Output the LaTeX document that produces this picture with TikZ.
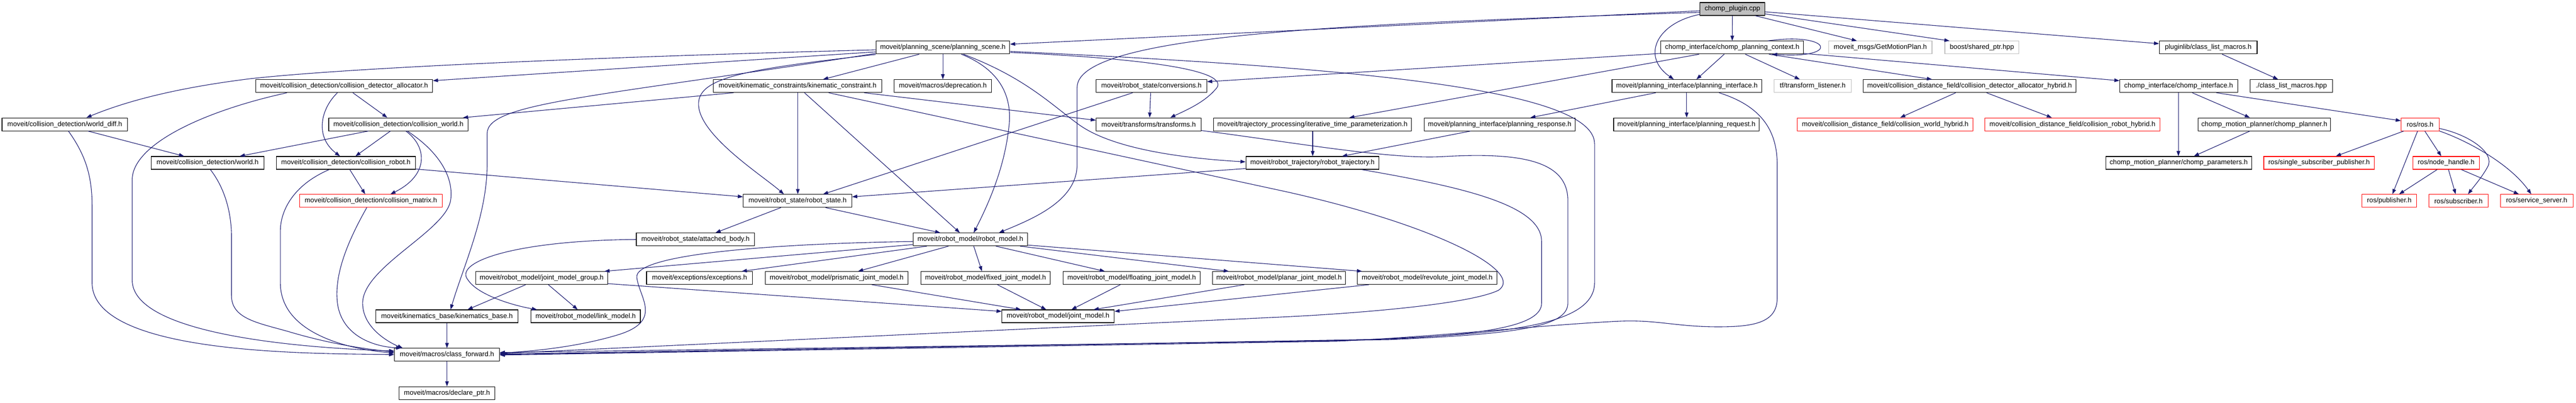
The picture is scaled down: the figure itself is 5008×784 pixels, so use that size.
\documentclass[tikz,border=0pt]{standalone}
\usepackage{fontspec}
\setmainfont{Liberation Sans}
\usetikzlibrary{arrows.meta}
\definecolor{edgec}{HTML}{191970}
\definecolor{lgray}{HTML}{BFBFBF}
\definecolor{redc}{HTML}{FF0000}
\newcommand\boxfont{\fontsize{13.3pt}{16pt}\selectfont}
\newcommand\mkbox[6][bx]{\node[#1,minimum width={(#4-#3)*1pt}] (#2) at ({(#3+#4)/2},#5) {#6};}
\tikzset{
  bx/.style={draw=black,line width=1.1pt,fill=white,minimum height=25pt,inner sep=0pt,font=\boxfont},
  rb/.style={bx,draw=redc},
  gb/.style={bx,draw=lgray},
  rootbox/.style={bx,fill=lgray},
  ed/.style={draw=edgec,line width=1.1pt,-{Triangle[length=10pt,width=7pt]}}
}
\begin{document}
\begin{tikzpicture}[x=1pt,y=-1pt]
\path[use as bounding box] (0,0) rectangle (5008,784);
% row 1
\mkbox[rootbox]{root}{3305}{3431}{17.5}{chomp\_plugin.cpp}
% row 2
\mkbox{ps}{1703}{1963}{92.5}{moveit/planning\_scene/planning\_scene.h}
\mkbox{cpc}{3229}{3506}{92.5}{chomp\_interface/chomp\_planning\_context.h}
\mkbox[gb]{gmp}{3555}{3756}{92.5}{moveit\_msgs/GetMotionPlan.h}
\mkbox[gb]{bsp}{3781}{3925}{92.5}{boost/shared\_ptr.hpp}
\mkbox{plm}{4198}{4388}{92.5}{pluginlib/class\_list\_macros.h}
% row 3
\mkbox{cda}{497}{841}{167.5}{moveit/collision\_detection/collision\_detector\_allocator.h}
\mkbox{kc}{1387}{1714}{167.5}{moveit/kinematic\_constraints/kinematic\_constraint.h}
\mkbox{dep}{1738}{1928}{167.5}{moveit/macros/deprecation.h}
\mkbox{conv}{2131}{2346}{167.5}{moveit/robot\_state/conversions.h}
\mkbox{pi}{3134}{3425}{167.5}{moveit/planning\_interface/planning\_interface.h}
\mkbox[gb]{tfl}{3449}{3599}{167.5}{tf/transform\_listener.h}
\mkbox{cdah}{3622}{4036}{167.5}{moveit/collision\_distance\_field/collision\_detector\_allocator\_hybrid.h}
\mkbox{ci}{4121}{4350}{167.5}{chomp\_interface/chomp\_interface.h}
\mkbox{clm}{4374}{4535}{167.5}{./class\_list\_macros.hpp}
% row 4
\mkbox{wd}{4}{248}{242}{moveit/collision\_detection/world\_diff.h}
\mkbox{cw}{639}{910}{242}{moveit/collision\_detection/collision\_world.h}
\mkbox{tr}{2131}{2335}{242}{moveit/transforms/transforms.h}
\mkbox{itp}{2359}{2744}{242}{moveit/trajectory\_processing/iterative\_time\_parameterization.h}
\mkbox{presp}{2769}{3062}{242}{moveit/planning\_interface/planning\_response.h}
\mkbox{preq}{3137}{3420}{242}{moveit/planning\_interface/planning\_request.h}
\mkbox[rb]{cwh}{3494}{3836}{242}{moveit/collision\_distance\_field/collision\_world\_hybrid.h}
\mkbox[rb]{crh}{3859}{4199}{242}{moveit/collision\_distance\_field/collision\_robot\_hybrid.h}
\mkbox{cp}{4273}{4531}{242}{chomp\_motion\_planner/chomp\_planner.h}
\mkbox[rb]{ros}{4668}{4742}{242}{ros/ros.h}
% row 5
\mkbox{wo}{294}{513}{317}{moveit/collision\_detection/world.h}
\mkbox{cr}{537}{808}{317}{moveit/collision\_detection/collision\_robot.h}
\mkbox{rt}{2422}{2681}{317}{moveit/robot\_trajectory/robot\_trajectory.h}
\mkbox{cpar}{4094}{4377}{317}{chomp\_motion\_planner/chomp\_parameters.h}
\mkbox[rb]{ssp}{4401}{4616}{317}{ros/single\_subscriber\_publisher.h}
\mkbox[rb]{nh}{4691}{4820}{317}{ros/node\_handle.h}
% row 6
\mkbox[rb]{cm}{582}{860}{391}{moveit/collision\_detection/collision\_matrix.h}
\mkbox{rs}{1445}{1656}{391}{moveit/robot\_state/robot\_state.h}
\mkbox[rb]{pub}{4592}{4698}{391}{ros/publisher.h}
\mkbox[rb]{sub}{4722}{4837}{391}{ros/subscriber.h}
\mkbox[rb]{ss}{4861}{5002}{391}{ros/service\_server.h}
% row 7
\mkbox{ab}{1237}{1467}{466}{moveit/robot\_state/attached\_body.h}
\mkbox{rm}{1775}{1998}{466}{moveit/robot\_model/robot\_model.h}
% row 8
\mkbox{jmg}{925}{1181}{541}{moveit/robot\_model/joint\_model\_group.h}
\mkbox{exc}{1257}{1463}{541}{moveit/exceptions/exceptions.h}
\mkbox{pjm}{1488}{1765}{541}{moveit/robot\_model/prismatic\_joint\_model.h}
\mkbox{fjm}{1790}{2042}{541}{moveit/robot\_model/fixed\_joint\_model.h}
\mkbox{fljm}{2067}{2333}{541}{moveit/robot\_model/floating\_joint\_model.h}
\mkbox{pljm}{2357}{2616}{541}{moveit/robot\_model/planar\_joint\_model.h}
\mkbox{rjm}{2639}{2910}{541}{moveit/robot\_model/revolute\_joint\_model.h}
% row 9
\mkbox{kb}{731}{1007}{615.5}{moveit/kinematics\_base/kinematics\_base.h}
\mkbox{lm}{1032}{1245}{615.5}{moveit/robot\_model/link\_model.h}
\mkbox{jm}{1948}{2166}{615.5}{moveit/robot\_model/joint\_model.h}
% row 10, 11
\mkbox{cf}{767}{971}{690.5}{moveit/macros/class\_forward.h}
\mkbox{dp}{776}{962}{765}{moveit/macros/declare\_ptr.h}

% ---- edges: root
\draw[ed] (root) -- (cpc);
\draw[ed] (root.south -| 3412,0) -- (gmp.north -| 3610,0);
\draw[ed] (root.east |- 0,27) -- (bsp.north -| 3790,0);
\draw[ed] (root.east |- 0,23) -- (plm.west |- 0,85);
\draw[ed] (root.west |- 0,21) -- (ps.east |- 0,86);
\draw[ed] (root.west |- 0,24) .. controls (2700,45) and (2094,60) .. (2094,170) -- (2094,320) .. controls (2094,390) and (2010,425) .. (rm.north -| 1942,0);
\draw[ed] (root.west |- 0,28) .. controls (3220,45) and (3190,110) .. (pi.north -| 3254,0);
% cpc
\draw[ed] (cpc.south -| 3352,0) -- (pi.north -| 3298,0);
\draw[ed] (cpc.west |- 0,104) -- (conv.east |- 0,159);
\draw[ed] (cpc.south -| 3303,0) -- (itp.north -| 2623,0);
\draw[ed] (cpc.south -| 3393,0) -- (tfl.north -| 3499,0);
\draw[ed] (cpc.south -| 3439,0) -- (cdah.north -| 3756,0);
\draw[ed] (cpc.east |- 0,104) -- (ci.west |- 0,157);
\draw[ed] (cpc.north -| 3437,0) .. controls (3560,62) and (3580,115) .. (cpc.south -| 3445,0);
% ps
\draw[ed] (ps.west |- 0,97) .. controls (1200,110) and (700,130) .. (488,153) .. controls (350,170) and (250,195) .. (wd.north -| 168,0);
\draw[ed] (ps.west |- 0,101) -- (cda.east |- 0,157);
\draw[ed] (ps.west |- 0,104) .. controls (1150,190) and (947,200) .. (947,260) -- (947,320) .. controls (947,420) and (900,520) .. (kb.north -| 876,0);
\draw[ed] (ps.west |- 0,106) .. controls (1450,135) and (1355,150) .. (1358,205) .. controls (1362,265) and (1480,340) .. (rs.north -| 1524,0);
\draw[ed] (ps.south -| 1787,0) -- (kc.north -| 1600,0);
\draw[ed] (ps.south -| 1833,0) -- (dep.north -| 1833,0);
\draw[ed] (ps.south -| 1869,0) .. controls (1955,140) and (1968,200) .. (1961,250) .. controls (1952,330) and (1920,400) .. (rm.north -| 1893,0);
\draw[ed] (ps.south -| 1873,0) .. controls (1990,150) and (2040,200) .. (2094,240) .. controls (2160,290) and (2300,308) .. (rt.west |- 0,315);
\draw[ed] (ps.east |- 0,102) .. controls (2250,115) and (2400,140) .. (2362,175) .. controls (2340,200) and (2305,215) .. (tr.north -| 2275,0);
\draw[ed] (ps.east |- 0,100) .. controls (2600,130) and (3100,170) .. (3100,280) -- (3100,550) .. controls (3100,640) and (2900,652) .. (2600,663) -- (cf.east |- 0,686);
% kc
\draw[ed] (kc.south -| 1426,0) -- (cw.north -| 900,0);
\draw[ed] (kc.south -| 1551,0) -- (rs.north -| 1551,0);
\draw[ed] (kc.south -| 1564,0) -- (rm.north -| 1866,0);
\draw[ed] (kc.south -| 1680,0) -- (tr.west |- 0,234);
\draw[ed] (kc.south -| 1611,0) -- (2500,373) .. controls (2800,440) and (2965,530) .. (2913,565) .. controls (2850,595) and (2600,612) .. (2490,617) -- (cf.east |- 0,688);
% cda
\draw[ed] (cda.south -| 558,0) .. controls (400,215) and (257,280) .. (257,350) -- (257,545) .. controls (257,645) and (550,676) .. (cf.west |- 0,683);
\draw[ed] (cda.south -| 656,0) .. controls (625,210) and (610,265) .. (cr.north -| 661,0);
\draw[ed] (cda.south -| 686,0) -- (cw.north -| 753,0);
% wd
\draw[ed] (wd.south -| 133,0) .. controls (165,300) and (179,340) .. (179,400) -- (179,550) .. controls (179,690) and (600,688) .. (cf.west |- 0,690);
\draw[ed] (wd.south -| 171,0) -- (wo.north -| 358,0);
% cw
\draw[ed] (cw.south -| 716,0) -- (wo.north -| 466,0);
\draw[ed] (cw.south -| 759,0) -- (cr.north -| 691,0);
\draw[ed] (cw.south -| 789,0) .. controls (830,285) and (835,340) .. (cm.north -| 759,0);
\draw[ed] (cw.south -| 792,0) .. controls (860,300) and (882,350) .. (876,390) .. controls (866,450) and (705,520) .. (705,590) .. controls (705,640) and (760,668) .. (cf.north -| 783,0);
% wo, cr, cm
\draw[ed] (wo.south -| 409,0) .. controls (440,370) and (450,420) .. (450,460) -- (450,575) .. controls (450,620) and (500,628) .. (560,645) .. controls (650,672) and (720,680) .. (cf.west |- 0,685);
\draw[ed] (cr.south -| 640,0) .. controls (570,360) and (545,410) .. (545,450) -- (545,550) .. controls (545,650) and (680,680) .. (cf.west |- 0,687);
\draw[ed] (cr.south -| 680,0) -- (cm.north -| 710,0);
\draw[ed] (cr.east |- 0,329) -- (rs.west |- 0,383);
\draw[ed] (cm.south -| 713,0) .. controls (670,480) and (650,540) .. (656,590) .. controls (664,650) and (720,674) .. (cf.north -| 780,0);
% kb, cf
\draw[ed] (kb.south -| 869,0) -- (cf.north -| 869,0);
\draw[ed] (cf.south -| 869,0) -- (dp.north -| 869,0);
% jmg
\draw[ed] (jmg.south -| 1022,0) -- (kb.north -| 909,0);
\draw[ed] (jmg.south -| 1066,0) -- (lm.north -| 1123,0);
\draw[ed] (jmg.east |- 0,552) -- (jm.west |- 0,606);
% ab
\draw[ed] (ab.west) .. controls (1000,468) and (880,510) .. (910,545) .. controls (930,575) and (1000,595) .. (lm.north -| 1044,0);
% rs
\draw[ed] (rs.south -| 1518,0) -- (ab.north -| 1391,0);
\draw[ed] (rs.south -| 1605,0) -- (rm.north -| 1828,0);
% conv
\draw[ed] (conv.south -| 2202,0) -- (rs.north -| 1600,0);
\draw[ed] (conv.south -| 2237,0) -- (tr.north -| 2235,0);
% rt
\draw[ed] (rt.west |- 0,328) -- (rs.east |- 0,383);
\draw[ed] (rt.south -| 2647,0) .. controls (2850,365) and (2997,400) .. (2997,470) -- (2997,590) .. controls (2997,632) and (2900,650) .. (2700,660) -- (cf.east |- 0,690);
% tr
\draw[ed] (tr.east |- 0,254) .. controls (2500,275) and (2700,310) .. (2800,305) .. controls (2950,296) and (3048,310) .. (3048,390) -- (3048,590) .. controls (3048,636) and (2950,650) .. (2700,661) -- (cf.east |- 0,689);
% itp, presp, pi
\draw[ed] (itp.south -| 2552,0) -- (rt.north -| 2552,0);
\draw[ed] (presp.south -| 2859,0) -- (rt.north -| 2609,0);
\draw[ed] (pi.south -| 3219,0) -- (presp.north -| 2975,0);
\draw[ed] (pi.south -| 3279,0) -- (preq.north -| 3279,0);
\draw[ed] (pi.south -| 3342,0) .. controls (3420,205) and (3455,250) .. (3455,320) -- (3455,580) .. controls (3455,628) and (3410,636) .. (3340,636) .. controls (3260,636) and (3220,622) .. (3150,625) .. controls (3000,632) and (2800,655) .. (2600,664) -- (cf.east |- 0,691);
% rm
\draw[ed] (rm.west |- 0,470) .. controls (1500,474) and (1232,495) .. (1238,540) .. controls (1243,580) and (1290,625) .. (1200,652) .. controls (1120,676) and (1030,684) .. (cf.east |- 0,687);
\draw[ed] (rm.west |- 0,476) -- (jmg.north -| 1175,0);
\draw[ed] (rm.south -| 1802,0) -- (exc.north -| 1442,0);
\draw[ed] (rm.south -| 1844,0) -- (pjm.north -| 1668,0);
\draw[ed] (rm.south -| 1893,0) -- (fjm.north -| 1909,0);
\draw[ed] (rm.south -| 1936,0) -- (fljm.north -| 2148,0);
\draw[ed] (rm.south -| 1983,0) -- (pljm.north -| 2389,0);
\draw[ed] (rm.east |- 0,477) -- (rjm.north -| 2648,0);
% joint models
\draw[ed] (pjm.south -| 1695,0) -- (jm.north -| 1985,0);
\draw[ed] (fjm.south -| 1939,0) -- (jm.north -| 2034,0);
\draw[ed] (fljm.south -| 2178,0) -- (jm.north -| 2083,0);
\draw[ed] (pljm.south -| 2419,0) -- (jm.north -| 2126,0);
\draw[ed] (rjm.south -| 2661,0) -- (jm.east |- 0,606);
% right cluster
\draw[ed] (cdah.south -| 3802,0) -- (cwh.north -| 3694,0);
\draw[ed] (cdah.south -| 3862,0) -- (crh.north -| 3989,0);
\draw[ed] (plm.south -| 4320,0) -- (clm.north -| 4429,0);
\draw[ed] (ci.south -| 4235,0) -- (cpar.north -| 4235,0);
\draw[ed] (ci.south -| 4262,0) -- (cp.north -| 4374,0);
\draw[ed] (ci.south -| 4309,0) -- (ros.west |- 0,235);
\draw[ed] (cp.south -| 4374,0) -- (cpar.north -| 4265,0);
\draw[ed] (ros.south -| 4673,0) -- (ssp.north -| 4541,0);
\draw[ed] (ros.south -| 4700,0) -- (pub.north -| 4651,0);
\draw[ed] (ros.south -| 4714,0) -- (nh.north -| 4746,0);
\draw[ed] (ros.east |- 0,250) .. controls (4800,262) and (4852,298) .. (4836,325) .. controls (4825,345) and (4810,362) .. (sub.north -| 4798,0);
\draw[ed] (ros.east |- 0,255) .. controls (4800,275) and (4880,320) .. (ss.north -| 4921,0);
\draw[ed] (nh.south -| 4738,0) -- (pub.north -| 4664,0);
\draw[ed] (nh.south -| 4760,0) -- (sub.north -| 4774,0);
\draw[ed] (nh.south -| 4785,0) -- (ss.north -| 4897,0);
\end{tikzpicture}
\end{document}
